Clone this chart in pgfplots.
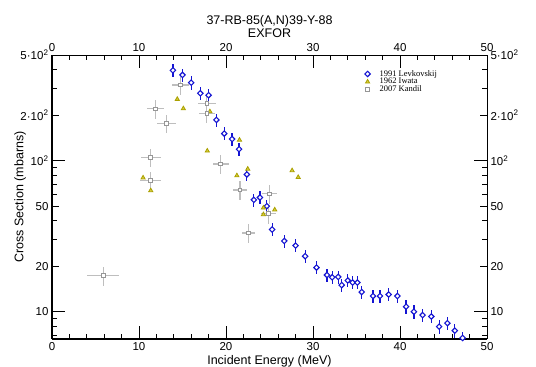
\documentclass[border=0pt]{standalone}
\usepackage{pgfplots}
\pgfplotsset{compat=1.18}
\usepackage{fontspec}
\setmainfont{Liberation Sans}
\newfontfamily\legfont{Liberation Serif}
\definecolor{levblue}{RGB}{20,20,210}
\definecolor{iwfill}{RGB}{215,205,60}
\definecolor{iwdraw}{RGB}{170,160,0}
\definecolor{kmark}{RGB}{150,150,150}
\definecolor{kbar}{RGB}{190,190,190}

\pgfplotstableread{
x y ey
13.9 396 0.1
15.0 369 0.1
16.0 328 0.1
17.05 279 0.1
18.0 271 0.1
18.9 186 0.1
19.8 151 0.1
20.7 139 0.1
21.5 119 0.1
22.4 81 0.1
23.2 55 0.1
23.9 57 0.1
24.7 50 0.1
25.3 35 0.1
26.7 29.4 0.1
28.0 27.4 0.1
29.1 23.3 0.1
30.4 19.6 0.1
31.6 17.5 0.1
32.2 16.9 0.1
32.9 17.0 0.1
33.3 15.0 0.1
34.0 16.1 0.1
34.55 15.6 0.1
35.1 15.6 0.1
35.6 13.5 0.1
36.9 12.7 0.1
37.7 12.7 0.1
38.7 13.0 0.1
39.7 12.7 0.1
40.7 10.8 0.1
41.6 10.0 0.1
42.6 9.5 0.1
43.6 9.3 0.1
44.5 7.97 0.1
45.45 8.4 0.1
46.3 7.5 0.1
47.2 6.7 0.1
}\levk

\pgfplotstableread{
x y
10.47 77
11.35 63.4
14.4 255
15.1 221
17.85 116
18.15 211
21.25 79.6
21.55 137
22.5 88
24.3 48.7
24.3 44
25.6 47.3
27.6 86
28.3 77.6
}\iwata

\pgfplotstableread{
x y ex ey
5.88 17.3 1.84 0.14
11.3 73.8 1.24 0.14
11.35 105 1.15 0.14
11.93 220 1.0 0.14
13.15 176 1.1 0.14
14.76 317 1.0 0.14
17.8 239 1.0 0.14
17.8 206 0.95 0.14
19.4 95 0.9 0.14
21.6 64 0.85 0.14
22.6 33.2 0.77 0.14
24.9 44.6 0.9 0.14
24.97 60.3 0.85 0.14
}\kandil

\begin{document}
\begin{tikzpicture}
\path[use as bounding box] (-52bp,-28bp) rectangle (484bp,339bp);
\begin{axis}[
  scale only axis, width=435bp, height=284bp,
  xmin=0, xmax=50, ymin=6.6, ymax=500, ymode=log,
  tick align=inside,
  tick style={black, line width=0.9bp},
  xtick={0,10,...,50},
  minor xtick={2,4,6,8,12,14,16,18,22,24,26,28,32,34,36,38,42,44,46,48},
  ytick={10,100}, yticklabels={10,10\textsuperscript{2}},
  extra y ticks={20,50,200,500},
  extra y tick labels={20,50,2·10\textsuperscript{2},5·10\textsuperscript{2}},
  extra y tick style={major tick length=7bp},
  minor ytick={7,8,9,30,40,60,70,80,90,300,400},
  major tick length=13bp, minor tick length=5bp,
  ticklabel style={font=\fontsize{11.5bp}{13bp}\selectfont},
  /pgf/number format/assume math mode=true,
  axis x line*=bottom, axis y line*=left,
  axis line style={line width=1.5bp, black},
  xlabel={Incident Energy (MeV)}, ylabel={Cross Section (mbarns)},
  label style={font=\fontsize{12.5bp}{14bp}\selectfont},
  xlabel style={at={(axis description cs:0.5,-0.0915)}, anchor=base},
  ylabel style={at={(axis description cs:-0.0735,0.5)}, anchor=center},
  legend style={at={(0.712,0.955)}, anchor=north west, draw=none, fill=none,
    font=\legfont\fontsize{8.5bp}{9bp}\selectfont,
    nodes={inner sep=0.3bp}, row sep=0pt, column sep=9bp},
  legend cell align=left,
]
\addplot[only marks, mark=square*, mark size=1.9bp, levblue,
  mark options={rotate=45, fill=white, draw=levblue, line width=1.1bp},
  error bars/.cd, y dir=both, y explicit relative,
  error mark=none, error bar style={levblue, line width=1.2bp}]
  table[x=x, y=y, y error=ey]{\levk};
\addlegendentry{1991 Levkovskij}
\addplot[only marks, mark=triangle*, mark size=2.4bp,
  mark options={fill=iwfill, draw=iwdraw, line width=0.8bp}]
  table[x=x, y=y]{\iwata};
\addlegendentry{1962 Iwata}
\addplot[only marks, mark=square*, mark size=1.9bp,
  mark options={fill=white, draw=kmark, line width=0.8bp},
  error bars/.cd, x dir=both, x explicit, y dir=both, y explicit relative,
  error mark=none, error bar style={kbar, line width=1.2bp}]
  table[x=x, y=y, x error=ex, y error=ey]{\kandil};
\addlegendentry{2007 Kandil}
\end{axis}
\begin{axis}[
  scale only axis, width=435bp, height=284bp,
  xmin=0, xmax=50, ymin=6.6, ymax=500, ymode=log,
  tick align=inside,
  tick style={black, line width=0.9bp},
  xtick={0,10,...,50},
  minor xtick={2,4,6,8,12,14,16,18,22,24,26,28,32,34,36,38,42,44,46,48},
  ytick={10,100}, yticklabels={10,10\textsuperscript{2}},
  extra y ticks={20,50,200,500},
  extra y tick labels={20,50,2·10\textsuperscript{2},5·10\textsuperscript{2}},
  extra y tick style={major tick length=7bp},
  minor ytick={7,8,9,30,40,60,70,80,90,300,400},
  major tick length=13bp, minor tick length=5bp,
  ticklabel style={font=\fontsize{11.5bp}{13bp}\selectfont},
  /pgf/number format/assume math mode=true,
  axis x line*=top, axis y line*=right,
  axis line style={line width=0.8bp, black},
  clip=false,
]
\node[font=\fontsize{12.5bp}{14bp}\selectfont, anchor=base] at (rel axis cs:0.5,1) [yshift=30bp] {37-RB-85(A,N)39-Y-88};
\node[font=\fontsize{12.5bp}{14bp}\selectfont, anchor=base] at (rel axis cs:0.5,1) [yshift=17bp] {EXFOR};
\end{axis}
\end{tikzpicture}
\end{document}
